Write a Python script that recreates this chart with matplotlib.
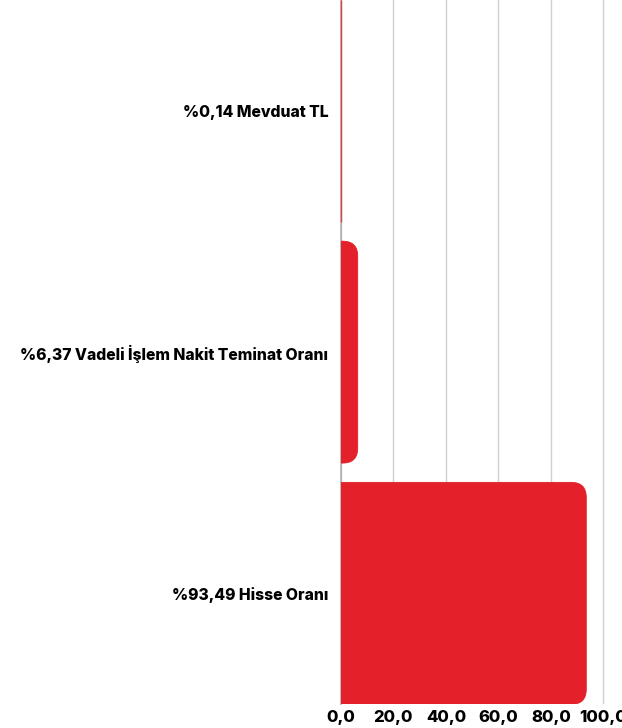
import matplotlib.pyplot as plt
from matplotlib.patches import FancyBboxPatch
from matplotlib.ticker import FuncFormatter

# Portfolio breakdown (percent)
labels = ['%0,14 Mevduat TL', '%6,37 Vadeli İşlem Nakit Teminat Oranı', '%93,49 Hisse Oranı']
values = [0.14, 6.37, 93.49]
ticks = [0, 20, 40, 60, 80, 100]

bar_color = '#E4202A'
plt.rcParams['font.family'] = ['Inter', 'DejaVu Sans']

fig = plt.figure(figsize=(6.22, 7.28), dpi=100)
ax = fig.add_axes([0.5482, 0.0326, 0.4518, 0.9674])

ax.set_xlim(0, 107.1)
ax.set_ylim(2.46, -0.46)

height = 0.92
# corner radius in x data units and y/x aspect for round corners
r = 5.7
px_x = ax.bbox.width / 107.1
px_y = ax.bbox.height / 2.92
aspect = px_x / px_y

for i, v in enumerate(values):
    if v < r:
        # too thin to round: plain sliver drawn over the axis line
        box = FancyBboxPatch((0, i - height / 2), v, height,
                             boxstyle='square,pad=0', facecolor=bar_color,
                             edgecolor=bar_color, linewidth=1.0, zorder=3,
                             clip_on=False, alpha=0.75)
    else:
        # start left of the axis so only the right corners show rounded
        box = FancyBboxPatch((-r, i - height / 2), v + r, height,
                             boxstyle=f'round,pad=0,rounding_size={r}',
                             mutation_aspect=aspect, facecolor=bar_color,
                             edgecolor=bar_color, linewidth=0.6, zorder=3)
    ax.add_patch(box)

ax.set_yticks(range(len(labels)))
ax.set_yticklabels(labels, fontsize=11.3, fontweight=800)
ax.set_xticks(ticks)
ax.xaxis.set_major_formatter(FuncFormatter(lambda x, p: f'{x:.1f}'.replace('.', ',')))
for t in ax.get_xticklabels():
    t.set_fontsize(12)
    t.set_fontweight(800)

ax.tick_params(axis='both', length=0)
ax.tick_params(axis='y', pad=9)
ax.tick_params(axis='x', pad=4)

ax.grid(axis='x', color='#d0d0d0', linewidth=1)
ax.set_axisbelow(True)
for s in ['top', 'right', 'bottom']:
    ax.spines[s].set_visible(False)
ax.spines['left'].set_color('#b0b0b0')
ax.spines['left'].set_linewidth(1.2)

fig.savefig('out.png', dpi=100)
